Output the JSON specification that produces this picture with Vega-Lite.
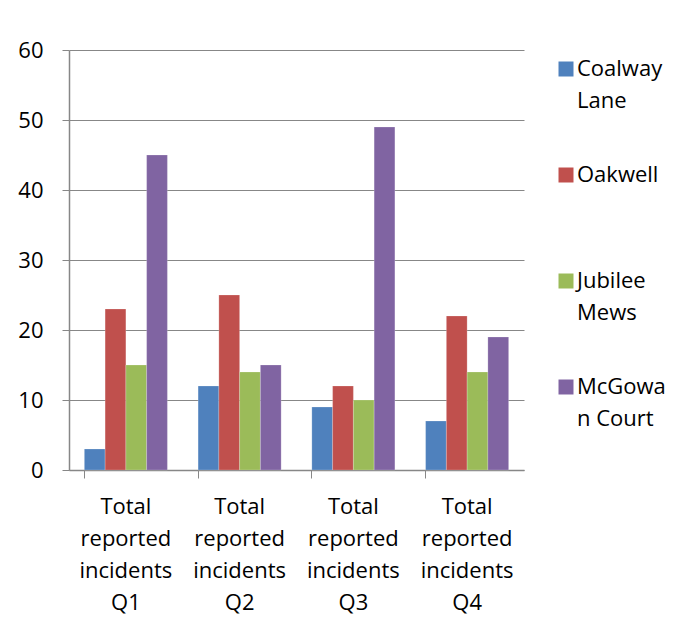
{
  "$schema": "https://vega.github.io/schema/vega-lite/v6.json",
  "width": 455,
  "height": 420,
  "autosize": "none",
  "padding": {"left": 69, "top": 50, "right": 167, "bottom": 166},
  "background": "white",
  "data": {
    "values": [
      {"quarter": "Total reported incidents Q1", "site": "Coalway Lane", "incidents": 3},
      {"quarter": "Total reported incidents Q1", "site": "Oakwell", "incidents": 23},
      {"quarter": "Total reported incidents Q1", "site": "Jubilee Mews", "incidents": 15},
      {"quarter": "Total reported incidents Q1", "site": "McGowan Court", "incidents": 45},
      {"quarter": "Total reported incidents Q2", "site": "Coalway Lane", "incidents": 12},
      {"quarter": "Total reported incidents Q2", "site": "Oakwell", "incidents": 25},
      {"quarter": "Total reported incidents Q2", "site": "Jubilee Mews", "incidents": 14},
      {"quarter": "Total reported incidents Q2", "site": "McGowan Court", "incidents": 15},
      {"quarter": "Total reported incidents Q3", "site": "Coalway Lane", "incidents": 9},
      {"quarter": "Total reported incidents Q3", "site": "Oakwell", "incidents": 12},
      {"quarter": "Total reported incidents Q3", "site": "Jubilee Mews", "incidents": 10},
      {"quarter": "Total reported incidents Q3", "site": "McGowan Court", "incidents": 49},
      {"quarter": "Total reported incidents Q4", "site": "Coalway Lane", "incidents": 7},
      {"quarter": "Total reported incidents Q4", "site": "Oakwell", "incidents": 22},
      {"quarter": "Total reported incidents Q4", "site": "Jubilee Mews", "incidents": 14},
      {"quarter": "Total reported incidents Q4", "site": "McGowan Court", "incidents": 19}
    ]
  },
  "mark": {"type": "bar", "stroke": "white", "strokeWidth": 0.5, "strokeOpacity": 0.4},
  "encoding": {
    "x": {
      "field": "quarter",
      "type": "nominal",
      "sort": null,
      "scale": {"paddingInner": 0.27, "paddingOuter": 0.135},
      "axis": {
        "title": null,
        "labelAngle": 0,
        "labelExpr": "split(datum.label, ' ')",
        "labelFontSize": 22,
        "labelLineHeight": 32,
        "labelColor": "#000000",
        "labelPadding": 28,
        "labelBaseline": "top",
        "bandPosition": 0,
        "tickSize": 8,
        "tickColor": "#878787",
        "domainColor": "#878787",
        "domainWidth": 1.5,
        "labelLimit": 200
      }
    },
    "xOffset": {
      "field": "site",
      "type": "nominal",
      "sort": ["Coalway Lane", "Oakwell", "Jubilee Mews", "McGowan Court"],
      "scale": {"paddingInner": 0, "paddingOuter": 0}
    },
    "y": {
      "field": "incidents",
      "type": "quantitative",
      "scale": {"domain": [0, 60], "nice": false},
      "axis": {
        "title": null,
        "values": [0, 10, 20, 30, 40, 50, 60],
        "grid": true,
        "gridColor": "#878787",
        "gridWidth": 1.2,
        "domainColor": "#878787",
        "domainWidth": 1.5,
        "tickColor": "#878787",
        "tickSize": 7,
        "labelPadding": 19,
        "labelOffset": 10,
        "labelFontSize": 22,
        "labelColor": "#000000"
      }
    },
    "color": {
      "field": "site",
      "type": "nominal",
      "sort": ["Coalway Lane", "Oakwell", "Jubilee Mews", "McGowan Court"],
      "scale": {
        "domain": ["Coalway Lane", "Oakwell", "Jubilee Mews", "McGowan Court"],
        "range": ["#4F81BD", "#C0504D", "#9BBB59", "#8064A2"]
      },
      "legend": {
        "orient": "none",
        "legendX": 486,
        "legendY": 8,
        "title": null,
        "padding": 0,
        "symbolType": "square",
        "symbolSize": 225,
        "symbolStrokeWidth": 0,
        "symbolOpacity": 1,
        "labelFontSize": 22,
        "labelColor": "#000000",
        "labelOffset": 0,
        "labelLimit": 200,
        "rowPadding": 52,
        "labelBaseline": "top",
        "labelExpr": "datum.label === 'Coalway Lane' ? ['Coalway', 'Lane'] : datum.label === 'Oakwell' ? ['Oakwell', ' '] : datum.label === 'Jubilee Mews' ? ['Jubilee', 'Mews'] : ['McGowa', 'n Court']"
      }
    }
  },
  "config": {
    "view": {"stroke": null},
    "font": "Open Sans",
    "style": {"guide-label": {"lineHeight": 32, "dy": -10}}
  }
}
